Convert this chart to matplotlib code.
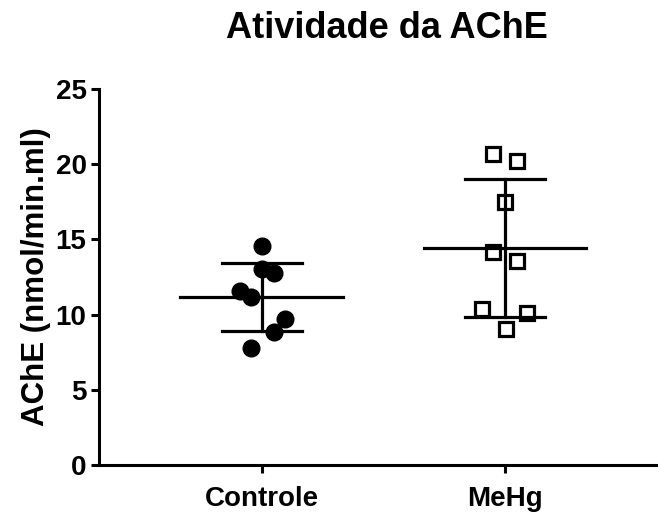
import numpy as np
import matplotlib
matplotlib.use("Agg")
import matplotlib.pyplot as plt

groups = ["Controle", "MeHg"]
controle = [14.56, 13.01, 12.75, 11.57, 11.15, 9.71, 8.82, 7.80]
mehg = [20.66, 20.23, 17.51, 14.18, 13.56, 10.35, 10.09, 9.04]
y_ticks = [0, 5, 10, 15, 20, 25]

plt.rcParams["font.family"] = ["Liberation Sans", "DejaVu Sans"]
plt.rcParams["font.weight"] = "bold"

fig = plt.figure(figsize=(6.58, 5.14), dpi=100)
ax = fig.add_axes([0.1505, 0.0953, 0.848, 0.7315])

# horizontal spread so overlapping points stay visible
spread = [
    [0.0, 0.0, 0.05, -0.09, -0.045, 0.095, 0.05, -0.045],
    [-0.048, 0.048, 0.0, -0.048, 0.048, -0.093, 0.092, 0.004],
]

for i, vals in enumerate([controle, mehg]):
    vals = np.array(vals)
    xs = i + np.array(spread[i])
    if i == 0:
        ax.plot(xs, vals, "o", ms=12, color="black", zorder=3)
    else:
        ax.plot(xs, vals, "s", ms=10.5, mfc="white", mec="black", mew=2.3, zorder=3)
    m = vals.mean()
    sd = vals.std(ddof=1)
    ax.plot([i - 0.335, i + 0.335], [m, m], color="black", lw=2.3, zorder=4)
    ax.plot([i - 0.165, i + 0.165], [m - sd, m - sd], color="black", lw=2.3, zorder=4)
    ax.plot([i - 0.165, i + 0.165], [m + sd, m + sd], color="black", lw=2.3, zorder=4)
    ax.plot([i, i], [m - sd, m + sd], color="black", lw=2.3, zorder=4)

ax.set_xlim(-0.669, 1.625)
ax.set_ylim(0, 25)
ax.set_xticks([0, 1])
ax.set_xticklabels(groups, fontsize=20, fontweight="bold")
ax.set_yticks(y_ticks)
ax.set_yticklabels([str(t) for t in y_ticks], fontsize=20, fontweight="bold")
ax.tick_params(axis="both", width=2.2, length=6, direction="out", pad=3)
ax.tick_params(axis="x", pad=9)

for s in ["top", "right"]:
    ax.spines[s].set_visible(False)
for s in ["left", "bottom"]:
    ax.spines[s].set_linewidth(2.2)

ax.set_ylabel("AChE (nmol/min.ml)", fontsize=22.5, fontweight="bold", labelpad=3)
fig.text(0.588, 0.945, "Atividade da AChE", ha="center", va="center",
         fontsize=26, fontweight="bold")

fig.savefig("out.png", dpi=100)
